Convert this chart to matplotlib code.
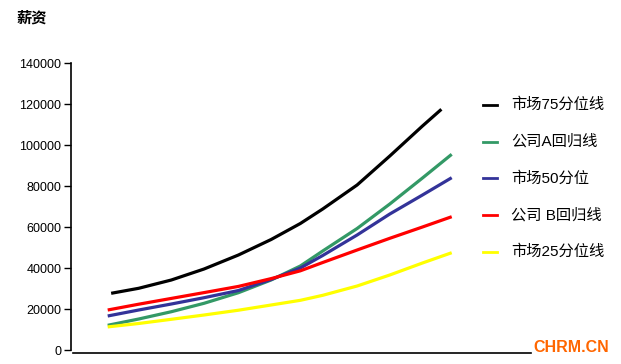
import matplotlib
matplotlib.use("Agg")
import matplotlib.pyplot as plt
from matplotlib.lines import Line2D

plt.rcParams["font.family"] = ["Liberation Sans", "Noto Sans CJK SC", "DejaVu Sans"]

# 职级位置（横轴无刻度）与各线薪资读数
x_grade = [0, 0.9, 1.85, 2.8, 3.8, 4.75, 5.6, 6.25, 7.25, 8.2, 9.15, 10]
x_p75 = [0.1, 0.9, 1.85, 2.8, 3.8, 4.75, 5.6, 6.25, 7.25, 8.2, 9.15, 9.7]

p75 = [27660, 30100, 34150, 39510, 46340, 53900, 61710, 68780, 80490, 94630, 109270, 117420]
company_a = [12050, 15120, 18680, 22780, 27950, 34150, 40980, 48290, 59270, 71220, 83900, 95460]
p50 = [16590, 19510, 22440, 25510, 29020, 34390, 40000, 46100, 56100, 66340, 75610, 84050]
company_b = [19510, 22340, 25170, 28000, 31020, 34830, 38630, 42680, 48780, 54490, 60000, 65020]
p25 = [11270, 12930, 14980, 17070, 19410, 21950, 24240, 26680, 31220, 36590, 42440, 47460]

labels = ["市场75分位线", "公司A回归线", "市场50分位", "公司 B回归线", "市场25分位线"]
colors = ["#000000", "#339966", "#333399", "#ff0000", "#ffff00"]
y_ticks = [0, 20000, 40000, 60000, 80000, 100000, 120000, 140000]

W, H = 621, 364
fig = plt.figure(figsize=(W / 100, H / 100), dpi=100)
ax = fig.add_axes([71 / W, 11 / H, 460 / W, 290 / H])

series = [(x_p75, p75), (x_grade, company_a), (x_grade, p50), (x_grade, company_b), (x_grade, p25)]
for (xs, ys), c in zip(series, colors):
    ax.plot(xs, ys, color=c, linewidth=2.3, solid_capstyle="butt", solid_joinstyle="round")

ax.set_xlim(-1.067, 12.305)
ax.set_ylim(-1460, 140000)
ax.set_yticks(y_ticks)
ax.set_yticklabels([str(v) for v in y_ticks], fontsize=9)
ax.tick_params(axis="y", direction="out", length=5, width=1, pad=2)
ax.set_xticks([])
for s in ["top", "right"]:
    ax.spines[s].set_visible(False)
ax.spines["left"].set_bounds(0, 140000)
ax.spines["bottom"].set_bounds(-1.0, 12.3)
ax.spines["left"].set_linewidth(1.2)
ax.spines["bottom"].set_linewidth(1.2)

# 标题
fig.text(17 / W, 1 - 18 / H, "薪资", fontsize=11, fontweight="bold",
         family=["Noto Sans CJK SC"], va="center", ha="left")

# 图例（手动排列）
for i, (lab, c) in enumerate(zip(labels, colors)):
    yy = 1 - (105 + i * 36.7) / H
    fig.add_artist(Line2D([483 / W, 497 / W], [yy, yy], color=c, linewidth=2,
                          transform=fig.transFigure))
    fig.text(511 / W, yy, lab, fontsize=11, va="center", ha="left")

# 水印
fig.text(533 / W, 1 - 347 / H, "CHRM.CN", fontsize=11.5, fontweight="bold",
         color="#ff6600", va="center", ha="left")

fig.savefig("out.png", dpi=100)
